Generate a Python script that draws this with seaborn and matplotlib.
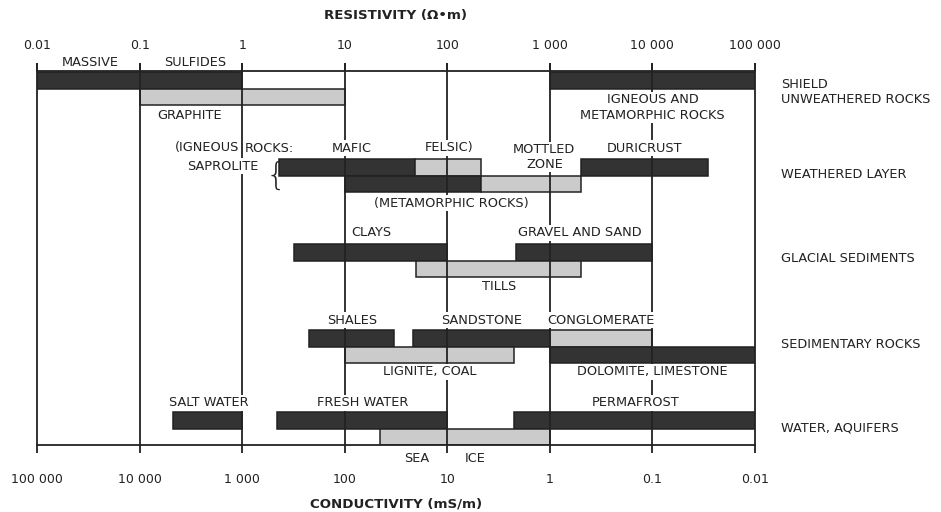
import numpy as np
import pandas as pd
import matplotlib
matplotlib.use("Agg")
import matplotlib.pyplot as plt
import matplotlib.transforms as mtransforms
from matplotlib.ticker import NullLocator, FixedLocator
import seaborn as sns

# ---------------- data ----------------
groups = ["SHIELD\nUNWEATHERED ROCKS", "WEATHERED LAYER", "GLACIAL SEDIMENTS",
          "SEDIMENTARY ROCKS", "WATER, AQUIFERS"]
materials = ["massive sulfides", "igneous & metamorphic", "graphite",
             "saprolite mafic", "saprolite felsic", "duricrust",
             "saprolite metamorphic", "mottled zone",
             "clays", "gravel and sand", "tills",
             "shales", "sandstone", "conglomerate", "lignite, coal",
             "dolomite, limestone",
             "salt water", "fresh water", "permafrost", "sea ice"]
group_idx = [0, 0, 0, 1, 1, 1, 1, 1, 2, 2, 2, 3, 3, 3, 3, 3, 4, 4, 4, 4]
lane = [0, 0, 1, 0, 0, 0, 1, 1, 0, 0, 1, 0, 0, 0, 1, 1, 0, 0, 0, 1]
rho_low = [0.01, 1000, 0.1, 2.3, 48, 2000, 10, 215, 3.2, 470, 50,
           4.5, 46, 1000, 10, 1000, 0.21, 2.2, 445, 22]
rho_high = [1, 100000, 10, 48, 215, 35000, 215, 2000, 100, 10000, 2000,
            30, 1000, 10000, 445, 100000, 1, 100, 100000, 1000]
shade = ["dark", "dark", "light", "dark", "light", "dark", "dark", "light",
         "dark", "dark", "light", "dark", "dark", "light", "light", "dark",
         "dark", "dark", "dark", "light"]

res_ticks = [0.01, 0.1, 1, 10, 100, 1000, 10000, 100000]
res_labels = ["0.01", "0.1", "1", "10", "100", "1 000", "10 000", "100 000"]
cond_labels = ["100 000", "10 000", "1 000", "100", "10", "1", "0.1", "0.01"]

# text annotations (label, resistivity position)
annot_text = ["MASSIVE", "SULFIDES", "GRAPHITE", "IGNEOUS AND\nMETAMORPHIC ROCKS",
              "(IGNEOUS", "ROCKS:", "SAPROLITE", "MAFIC", "FELSIC)",
              "MOTTLED\nZONE", "DURICRUST", "(METAMORPHIC ROCKS)",
              "CLAYS", "GRAVEL AND SAND", "TILLS",
              "SHALES", "SANDSTONE", "CONGLOMERATE", "LIGNITE, COAL",
              "DOLOMITE, LIMESTONE",
              "SALT WATER", "FRESH WATER", "PERMAFROST", "SEA", "ICE"]
annot_x = [0.033, 0.345, 0.31, 10000,
           0.457, 1.84, 0.647, 11.7, 105,
           884, 8300, 110,
           18.3, 1940, 322,
           11.7, 215, 3170, 67,
           10000,
           0.47, 14.9, 6840, 50, 186]

# ---------------- layout (pixel-like y units) ----------------
Y_TOP, Y_BOT = 71, 445
row_top = [72, 159, 244, 330, 412]
bar_h = 16.6
annot_y = [62, 62, 115, 107.5,
           148, 148, 166, 148, 148,
           157, 148, 203,
           233, 233, 286,
           320, 320, 320, 372,
           372,
           403, 403, 403, 458, 458]
group_label_y = [92, 175, 259, 344, 428]

sns.set_theme(style="white")
plt.rcParams['font.family'] = ['DejaVu Sans']

ink = "#222222"
fill = {"dark": "#333333", "light": "#cbcbcb"}

df = pd.DataFrame({"material": materials, "group": group_idx, "lane": lane,
                   "low": rho_low, "high": rho_high, "shade": shade})

fig = plt.figure(figsize=(9.41, 5.12), dpi=100)
ax = fig.add_axes([37 / 941, 1 - Y_BOT / 512, (755 - 37) / 941, (Y_BOT - Y_TOP) / 512])
ax.set_xscale("log")
ax.set_xlim(0.01, 100000)
ax.set_ylim(Y_BOT, Y_TOP)
ax.set_facecolor("white")

for r in df.itertuples():
    y = row_top[r.group] + r.lane * bar_h
    ax.barh(y, r.high - r.low, left=r.low, height=bar_h, align="edge",
            color=fill[r.shade], edgecolor=ink, linewidth=1.1, zorder=2)

# decade lines
ax.vlines(res_ticks, Y_TOP, Y_BOT, color=ink, linewidth=1.3, zorder=3, clip_on=False)

# spines / ticks
for s in ["left", "right"]:
    ax.spines[s].set_visible(False)
for s in ["top", "bottom"]:
    ax.spines[s].set_linewidth(1.3)
    ax.spines[s].set_color(ink)
    ax.spines[s].set_zorder(4)
ax.set_yticks([])
ax.xaxis.set_major_locator(FixedLocator(res_ticks))
ax.xaxis.set_minor_locator(NullLocator())
ax.set_xticklabels(cond_labels)
ax.tick_params(axis="x", which="major", direction="out", length=6, width=1.3,
               color=ink, labelcolor=ink, labelsize=9, pad=14,
               top=True, bottom=True, labeltop=False, labelbottom=True)

sec = ax.secondary_xaxis("top")
sec.xaxis.set_major_locator(FixedLocator(res_ticks))
sec.xaxis.set_minor_locator(NullLocator())
sec.set_xticklabels(res_labels)
sec.spines["top"].set_visible(False)
sec.tick_params(axis="x", which="major", direction="out", length=6, width=1.3,
                color=ink, labelcolor=ink, labelsize=9, pad=8)

box = dict(facecolor="white", edgecolor="none", pad=0.8)
for t, x, y in zip(annot_text, annot_x, annot_y):
    ax.text(x, y, t, ha="center", va="center", fontsize=9.3, color=ink,
            bbox=box, zorder=5, clip_on=False, linespacing=1.25)

# brace for saprolite
ax.text(2.65, 175.5, "{", ha="right", va="center", fontsize=23, color=ink,
        family="DejaVu Sans", fontweight="light", zorder=5)

# group labels on the right
trans = mtransforms.blended_transform_factory(fig.transFigure, ax.transData)
for g, y in zip(groups, group_label_y):
    ax.text(781 / 941, y, g, transform=trans, ha="left", va="center",
            fontsize=9.3, color=ink, linespacing=1.25, clip_on=False)

fig.text(396 / 941, 1 - 15 / 512, "RESISTIVITY (Ω•m)", ha="center", va="center",
         fontsize=9.6, fontweight="bold", color=ink)
fig.text(396 / 941, 1 - 504 / 512, "CONDUCTIVITY (mS/m)", ha="center", va="center",
         fontsize=9.6, fontweight="bold", color=ink)

fig.savefig("out.png", dpi=100, facecolor="white")
